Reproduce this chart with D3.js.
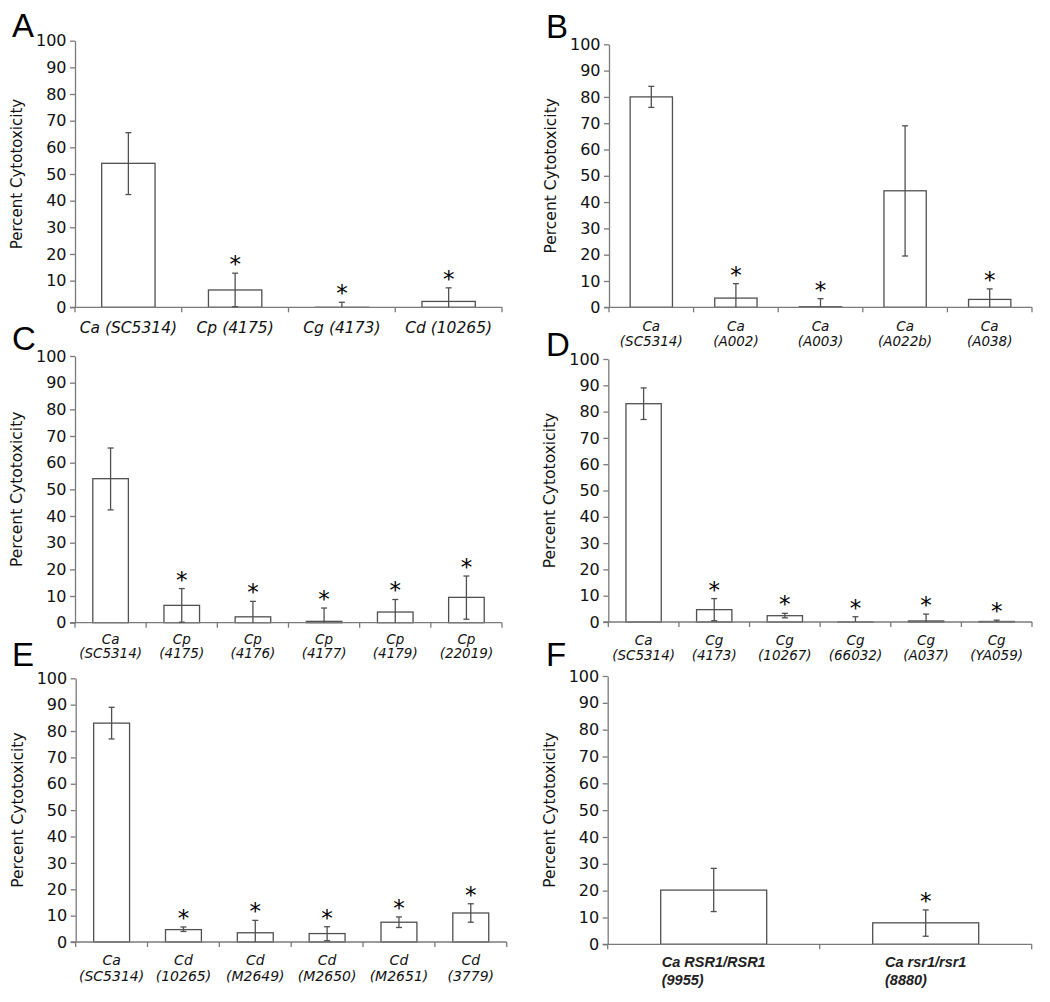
<!DOCTYPE html>
<html><head><meta charset="utf-8">
<script src="https://cdn.jsdelivr.net/npm/d3@7"></script>
<style>body{margin:0;background:#fff}svg{display:block}</style>
</head><body><svg id="c" width="1050" height="1002"></svg>
<script>
// ---------- DATA ----------
const yTicks = [0,10,20,30,40,50,60,70,80,90,100];
const yTitle = "Percent Cytotoxicity";

const letterA = "A";
const catsA1 = ["Ca (SC5314)","Cp (4175)","Cg (4173)","Cd (10265)"];
const catsA2 = ["","","",""];
const meanA = [54, 6.5, 0, 2.2];
const lowA  = [42.3, 0.2, 0, 0];
const highA = [65.5, 12.8, 1.9, 7.3];
const sigA  = [0, 1, 1, 1];

const letterB = "B";
const catsB1 = ["Ca","Ca","Ca","Ca","Ca"];
const catsB2 = ["(SC5314)","(A002)","(A003)","(A022b)","(A038)"];
const meanB = [80, 3.5, 0.2, 44.3, 3];
const lowB  = [76, 0, 0, 19.5, 0];
const highB = [84, 9, 3.3, 69, 7];
const sigB  = [0, 1, 1, 0, 1];

const letterC = "C";
const catsC1 = ["Ca","Cp","Cp","Cp","Cp","Cp"];
const catsC2 = ["(SC5314)","(4175)","(4176)","(4177)","(4179)","(22019)"];
const meanC = [54, 6.5, 2.2, 0.5, 4, 9.5];
const lowC  = [42.3, 0.2, 0, 0, 0, 1.3];
const highC = [65.5, 12.8, 8, 5.5, 8.7, 17.5];
const sigC  = [0, 1, 1, 1, 1, 1];

const letterD = "D";
const catsD1 = ["Ca","Cg","Cg","Cg","Cg","Cg"];
const catsD2 = ["(SC5314)","(4173)","(10267)","(66032)","(A037)","(YA059)"];
const meanD = [83, 4.7, 2.4, 0, 0.4, 0.2];
const lowD  = [77, 0.5, 1.6, 0, 0, 0];
const highD = [89, 8.9, 3.3, 2, 3, 0.7];
const sigD  = [0, 1, 1, 1, 1, 1];

const letterE = "E";
const catsE1 = ["Ca","Cd","Cd","Cd","Cd","Cd"];
const catsE2 = ["(SC5314)","(10265)","(M2649)","(M2650)","(M2651)","(3779)"];
const meanE = [83, 4.7, 3.5, 3.2, 7.5, 11];
const lowE  = [77, 4, 0, 0.5, 5.5, 7.5];
const highE = [89, 5.7, 8.2, 5.8, 9.5, 14.5];
const sigE  = [0, 1, 1, 1, 1, 1];

const letterF = "F";
const catsF1 = ["Ca RSR1/RSR1","Ca rsr1/rsr1"];
const catsF2 = ["(9955)","(8880)"];
const meanF = [20.2, 8];
const lowF  = [12.2, 3];
const highF = [28.3, 12.8];
const sigF  = [0, 1];

// ---------- LAYOUT ----------
const panels = [
  {letter:letterA, c1:catsA1, c2:catsA2, mean:meanA, low:lowA, high:highA, sig:sigA,
   x0:75, x1:502, yT:40.7, yB:307.3, lx:12, ly:37, tickFs:16, titleFs:15, labFs:15.5, lab1:333, lab2:0, style:"normal"},
  {letter:letterB, c1:catsB1, c2:catsB2, mean:meanB, low:lowB, high:highB, sig:sigB,
   x0:609, x1:1032, yT:44.3, yB:307.3, lx:546, ly:38, tickFs:16, titleFs:15.5, labFs:13.5, lab1:331, lab2:346, style:"two"},
  {letter:letterC, c1:catsC1, c2:catsC2, mean:meanC, low:lowC, high:highC, sig:sigC,
   x0:75, x1:502, yT:356, yB:622.7, lx:12, ly:350, tickFs:16, titleFs:15.5, labFs:13.5, lab1:644, lab2:658, style:"two"},
  {letter:letterD, c1:catsD1, c2:catsD2, mean:meanD, low:lowD, high:highD, sig:sigD,
   x0:608.3, x1:1032, yT:359, yB:622, lx:546, ly:356, tickFs:16, titleFs:15.5, labFs:13.5, lab1:645, lab2:660, style:"two"},
  {letter:letterE, c1:catsE1, c2:catsE2, mean:meanE, low:lowE, high:highE, sig:sigE,
   x0:75.7, x1:506.7, yT:678.3, yB:942, lx:12, ly:666, tickFs:16, titleFs:15.5, labFs:14, lab1:965, lab2:981, style:"two"},
  {letter:letterF, c1:catsF1, c2:catsF2, mean:meanF, low:lowF, high:highF, sig:sigF,
   x0:607.7, x1:1031.7, yT:676, yB:944.3, lx:546, ly:666, tickFs:16, titleFs:15.5, labFs:14.5, lab1:967, lab2:985, style:"F"}
];

const svg = d3.select("#c");
const AX = "#7a7a7a", BAR = "#505050", TXT = "#111";
const FONT = "'DejaVu Sans', Verdana, sans-serif";

panels.forEach(p => {
  const g = svg.append("g");
  const n = p.mean.length;
  const x = d3.scaleBand().domain(d3.range(n)).range([p.x0, p.x1]).paddingInner(0.5).paddingOuter(0.25);
  const y = d3.scaleLinear().domain([0, 100]).range([p.yB, p.yT]);

  // panel letter
  g.append("text").attr("x", p.lx).attr("y", p.ly).text(p.letter)
    .attr("font-family", "'Liberation Sans', Arial, sans-serif").attr("font-size", 33).attr("fill", "#000");

  // y axis
  const ya = g.append("g").attr("transform", `translate(${p.x0},0)`)
    .call(d3.axisLeft(y).tickValues(yTicks).tickSize(5).tickPadding(3.5).tickSizeOuter(0));
  ya.select(".domain").attr("stroke", AX).attr("stroke-width", 1.3);
  ya.selectAll(".tick line").attr("stroke", AX).attr("stroke-width", 1.3);
  ya.selectAll(".tick text").attr("font-family", FONT).attr("font-size", p.tickFs).attr("fill", TXT);

  // y title
  g.append("text").attr("transform", `translate(${p.x0 - 53},${(p.yT + p.yB) / 2}) rotate(-90)`)
    .attr("text-anchor", "middle").attr("font-family", FONT).attr("font-size", p.titleFs).attr("fill", TXT)
    .text(yTitle);

  // bars
  g.selectAll("rect.bar").data(p.mean).join("rect").attr("class", "bar")
    .attr("x", (d, i) => x(i)).attr("width", x.bandwidth())
    .attr("y", d => y(d)).attr("height", d => Math.max(0.01, y(0) - y(d)))
    .attr("fill", "#fff").attr("stroke", BAR).attr("stroke-width", 1.3);

  // x axis
  const bx = d3.scaleLinear().domain([0, n]).range([p.x0, p.x1]);
  g.append("line").attr("x1", p.x0 - 5).attr("x2", p.x1).attr("y1", p.yB).attr("y2", p.yB)
    .attr("stroke", AX).attr("stroke-width", 1.3);
  g.selectAll("line.xt").data(d3.range(n + 1)).join("line").attr("class", "xt")
    .attr("x1", d => bx(d)).attr("x2", d => bx(d)).attr("y1", p.yB).attr("y2", p.yB + 5)
    .attr("stroke", AX).attr("stroke-width", 1.3);

  // error bars
  const cx = i => x(i) + x.bandwidth() / 2;
  const eg = g.selectAll("g.err").data(p.mean.map((m, i) => i)).join("g").attr("class", "err");
  eg.append("line").attr("x1", cx).attr("x2", cx).attr("y1", i => y(p.low[i])).attr("y2", i => y(p.high[i]))
    .attr("stroke", BAR).attr("stroke-width", 1.3);
  eg.append("line").attr("x1", i => cx(i) - 3).attr("x2", i => cx(i) + 3)
    .attr("y1", i => y(p.high[i])).attr("y2", i => y(p.high[i])).attr("stroke", BAR).attr("stroke-width", 1.3);
  eg.filter(i => p.low[i] > 0.1).append("line").attr("x1", i => cx(i) - 3).attr("x2", i => cx(i) + 3)
    .attr("y1", i => y(p.low[i])).attr("y2", i => y(p.low[i])).attr("stroke", BAR).attr("stroke-width", 1.3);

  // significance stars
  g.selectAll("text.star").data(d3.range(n).filter(i => p.sig[i])).join("text").attr("class", "star")
    .attr("x", cx).attr("y", i => y(p.high[i]) - 1).attr("text-anchor", "middle")
    .attr("font-family", FONT).attr("font-size", 23).attr("fill", "#000").text("*");

  // category labels
  if (p.style === "normal") {
    g.selectAll("text.lab").data(p.c1).join("text").attr("class", "lab")
      .attr("x", (d, i) => cx(i)).attr("y", p.lab1).attr("text-anchor", "middle")
      .attr("font-family", FONT).attr("font-style", "italic").attr("font-size", p.labFs).attr("fill", TXT).text(d => d);
  } else if (p.style === "two") {
    [p.c1, p.c2].forEach((arr, k) => {
      g.selectAll("text.lab" + k).data(arr).join("text").attr("class", "lab" + k)
        .attr("x", (d, i) => cx(i)).attr("y", k ? p.lab2 : p.lab1).attr("text-anchor", "middle")
        .attr("font-family", FONT).attr("font-style", "italic").attr("font-size", p.labFs).attr("fill", TXT).text(d => d);
    });
  } else {
    p.c1.forEach((d, i) => {
      const t = g.append("text").attr("font-family", "'Liberation Sans', Arial, sans-serif")
        .attr("font-style", "italic").attr("font-weight", "bold").attr("font-size", p.labFs).attr("fill", "#222");
      const t1 = t.append("tspan").attr("y", p.lab1).text(d);
      const w = t1.node().getComputedTextLength();
      const left = cx(i) - w / 2;
      t1.attr("x", left);
      t.append("tspan").attr("x", left).attr("y", p.lab2).text(p.c2[i]);
    });
  }
});
</script></body></html>
